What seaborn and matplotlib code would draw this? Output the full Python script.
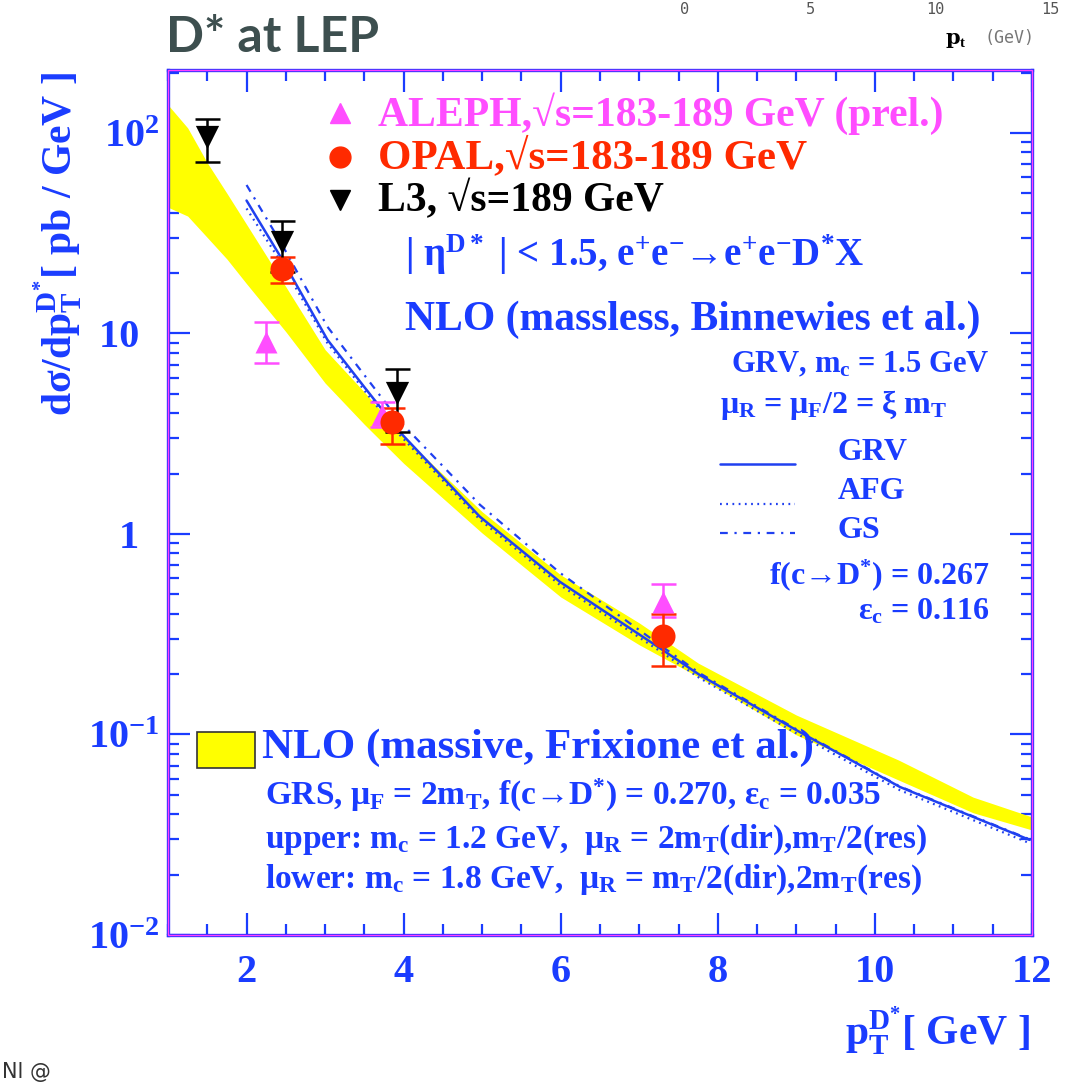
import numpy as np
import pandas as pd
import matplotlib
matplotlib.use("Agg")
import matplotlib.pyplot as plt
import seaborn as sns
from matplotlib.ticker import FixedLocator, FixedFormatter, MultipleLocator, LogLocator, NullFormatter
from matplotlib.patches import Rectangle

# ---------------- data ----------------
band_x = [1.0, 1.25, 1.5, 1.75, 2.0, 2.5, 3.0, 3.5, 4.0, 5.0, 6.0, 7.0, 7.75, 9.0, 10.3, 11.25, 12.0]
band_hi = [138, 106, 71, 50, 35, 17.1, 8.3, 5.1, 3.05, 1.29, 0.625, 0.36, 0.227, 0.125, 0.0746, 0.0487, 0.0388]
band_lo = [42.6, 38.5, 30.1, 23.5, 17.7, 10.2, 5.66, 3.52, 2.25, 1.01, 0.485, 0.28, 0.194, 0.0995, 0.0593, 0.0407, 0.0334]

nlo_x = [2.0, 2.45, 3.03, 3.5, 3.95, 4.97, 5.99, 7.26, 7.77, 9.04, 10.32, 11.97]
grv = [46, 23.5, 9.3, 5.4, 3.23, 1.22, 0.577, 0.27, 0.198, 0.103, 0.0547, 0.0298]
afg = [42, 22.3, 8.95, 5.2, 3.12, 1.18, 0.557, 0.261, 0.191, 0.0993, 0.0527, 0.0287]
gs = [55, 27.8, 10.8, 6.2, 3.65, 1.40, 0.64, 0.28, 0.202, 0.104, 0.0550, 0.0300]

aleph_x = [2.25, 3.73, 7.30]
aleph_y = [9.1, 3.93, 0.458]
aleph_lo = [7.1, 3.42, 0.385]
aleph_hi = [11.4, 4.55, 0.56]

opal_x = [2.45, 3.85, 7.30]
opal_y = [21.0, 3.62, 0.31]
opal_lo = [17.9, 2.81, 0.22]
opal_hi = [24.1, 4.25, 0.40]

l3_x = [1.50, 2.45, 3.91]
l3_y = [95, 28.6, 5.05]
l3_lo = [72, 20.3, 3.23]
l3_hi = [117, 36.4, 6.65]

x_ticks = [2, 4, 6, 8, 10, 12]
y_ticks = [0.01, 0.1, 1, 10, 100]
y_ticklabels = [r'10$^{-2}$', r'10$^{-1}$', '1\u2002', '10\u2002', r'10$^{2}$']

# ---------------- style ----------------
sns.set_style("ticks")
plt.rcParams['font.family'] = ['Liberation Serif', 'DejaVu Serif']
plt.rcParams['font.weight'] = 'bold'
plt.rcParams['axes.labelweight'] = 'bold'
plt.rcParams['mathtext.fontset'] = 'custom'
plt.rcParams['mathtext.rm'] = 'Liberation Serif:bold'
plt.rcParams['mathtext.it'] = 'Liberation Serif:bold'
plt.rcParams['mathtext.bf'] = 'Liberation Serif:bold'
plt.rcParams['mathtext.default'] = 'rm'

BLUE = '#1a3cff'
LINEBLUE = '#2040f0'
MAGENTA = '#ff4dff'
RED = '#ff2a00'

fig = plt.figure(figsize=(10.66, 10.86), dpi=100)
ax = fig.add_axes([168/1066, 1-935/1086, 864/1066, 865/1086])
ax.set_yscale('log')
ax.set_xlim(1, 12)
ax.set_ylim(0.01, 206)

# band
ax.fill_between(band_x, band_lo, band_hi, color='#ffff00', linewidth=0, zorder=1)

# NLO curves
df = pd.DataFrame({'x': nlo_x, 'GRV': grv, 'AFG': afg, 'GS': gs})
sns.lineplot(data=df, x='x', y='GRV', ax=ax, color=LINEBLUE, lw=1.8, zorder=3)
sns.lineplot(data=df, x='x', y='AFG', ax=ax, color=LINEBLUE, lw=1.6, linestyle=(0, (0.8, 2.0)), zorder=3)
sns.lineplot(data=df, x='x', y='GS', ax=ax, color=LINEBLUE, lw=1.6, linestyle=(0, (3.5, 3.0, 1.0, 3.0)), zorder=3)

# data points
def draw_points(xs, ys, lo, hi, color, marker, size):
    ys = np.array(ys); lo = np.array(lo); hi = np.array(hi)
    ax.errorbar(xs, ys, yerr=[ys - lo, hi - ys], fmt='none', ecolor=color,
                elinewidth=1.8, capsize=9, capthick=1.8, zorder=4)
    sns.scatterplot(x=xs, y=ys, ax=ax, color=color, marker=marker, s=size,
                    edgecolor=color, linewidth=0, zorder=5)

draw_points(aleph_x, aleph_y, aleph_lo, aleph_hi, MAGENTA, '^', 250)
draw_points(opal_x, opal_y, opal_lo, opal_hi, RED, 'o', 300)
draw_points(l3_x, l3_y, l3_lo, l3_hi, 'black', 'v', 280)

# ticks
ax.xaxis.set_major_locator(FixedLocator(x_ticks))
ax.xaxis.set_minor_locator(MultipleLocator(0.5))
ax.yaxis.set_major_locator(FixedLocator(y_ticks))
ax.yaxis.set_major_formatter(FixedFormatter(y_ticklabels))
ax.yaxis.set_minor_locator(LogLocator(base=10, subs=np.arange(2, 10)))
ax.yaxis.set_minor_formatter(NullFormatter())
ax.tick_params(which='both', direction='in', top=True, right=True, color=BLUE, width=1.6)
ax.tick_params(which='major', length=16)
ax.tick_params(which='minor', length=8)
ax.tick_params(axis='x', which='major', labelsize=29, labelcolor=BLUE, pad=14)
ax.tick_params(axis='y', which='major', labelsize=29, labelcolor=BLUE, pad=6)
for lab in ax.get_xticklabels() + ax.get_yticklabels():
    lab.set_fontweight('bold')

for s in ax.spines.values():
    s.set_color('#2a30ff')
    s.set_linewidth(2.4)
ax.add_patch(Rectangle((0, 0), 1, 1, transform=ax.transAxes, fill=False,
                       edgecolor='#ff40ff', lw=1.0, zorder=10, clip_on=False))

ax.set_xlabel(r'p$_{T}^{D^{*}}$[ GeV ]', loc='right', fontsize=30, color=BLUE, fontweight='bold')
ax.xaxis.set_label_coords((1030-168)/864, (935-1005)/865)
ax.set_ylabel(r'dσ/dp$_{T}^{D^{*}}$[ pb / GeV ]', loc='top', fontsize=30, color=BLUE, fontweight='bold')
ax.yaxis.set_label_coords((84-168)/864, (935-72)/865)

# legend-like annotations (axes fraction)
T = ax.transAxes
def fy(py):
    return (935 - py) / 865

ax.plot([0.199], [fy(113)], marker='^', ms=14, color=MAGENTA, transform=T, clip_on=False, ls='none')
ax.plot([0.199], [fy(157)], marker='o', ms=15, color=RED, transform=T, clip_on=False, ls='none')
ax.plot([0.199], [fy(200)], marker='v', ms=14, color='black', transform=T, clip_on=False, ls='none')
ax.text(0.243, fy(114), 'ALEPH,√s=183-189 GeV (prel.)', transform=T, color=MAGENTA, fontsize=30, va='center')
ax.text(0.243, fy(157), 'OPAL,√s=183-189 GeV', transform=T, color=RED, fontsize=31, va='center')
ax.text(0.243, fy(200), 'L3, √s=189 GeV', transform=T, color='black', fontsize=30, va='center')
ax.text(0.274, fy(255), r'| η$^{D*}$ | < 1.5, e$^{+}$e$^{-}$→e$^{+}$e$^{-}$D$^{*}$X', transform=T, color=BLUE, fontsize=28, va='center')
ax.text(0.274, fy(320), 'NLO (massless, Binnewies et al.)', transform=T, color=BLUE, fontsize=30, va='center')
ax.text(0.951, fy(365), r'GRV, m$_{c}$ = 1.5 GeV', transform=T, color=BLUE, fontsize=22, va='center', ha='right')
ax.text(0.639, fy(405), r'μ$_{R}$ = μ$_{F}$/2 = ξ m$_{T}$', transform=T, color=BLUE, fontsize=23, va='center')
ax.plot([0.639, 0.726], [fy(464), fy(464)], transform=T, color=LINEBLUE, lw=1.8)
ax.plot([0.639, 0.726], [fy(504), fy(504)], transform=T, color=LINEBLUE, lw=1.6, linestyle=(0, (0.8, 2.0)))
ax.plot([0.639, 0.726], [fy(533), fy(533)], transform=T, color=LINEBLUE, lw=1.6, linestyle=(0, (3.5, 3.0, 1.0, 3.0)))
ax.text(0.775, fy(453), 'GRV', transform=T, color=BLUE, fontsize=23, va='center')
ax.text(0.775, fy(492), 'AFG', transform=T, color=BLUE, fontsize=23, va='center')
ax.text(0.775, fy(531), 'GS', transform=T, color=BLUE, fontsize=23, va='center')
ax.text(0.951, fy(575), r'f(c→D$^{*}$) = 0.267', transform=T, color=BLUE, fontsize=23, va='center', ha='right')
ax.text(0.951, fy(612), r'ε$_{c}$ = 0.116', transform=T, color=BLUE, fontsize=23, va='center', ha='right')

ax.add_patch(Rectangle((0.0336, fy(768)), 0.0671, fy(732) - fy(768), transform=T, facecolor='#ffff00',
                       edgecolor='#333333', lw=1.2, zorder=6))
ax.text(0.109, fy(748), 'NLO (massive, Frixione et al.)', transform=T, color=BLUE, fontsize=31, va='center')
ax.text(0.112, fy(795), r'GRS, μ$_{F}$ = 2m$_{T}$, f(c→D$^{*}$) = 0.270, ε$_{c}$ = 0.035', transform=T, color=BLUE, fontsize=24, va='center')
ax.text(0.112, fy(840), r'upper: m$_{c}$ = 1.2 GeV,  μ$_{R}$ = 2m$_{T}$(dir),m$_{T}$/2(res)', transform=T, color=BLUE, fontsize=24, va='center')
ax.text(0.112, fy(880), r'lower: m$_{c}$ = 1.8 GeV,  μ$_{R}$ = m$_{T}$/2(dir),2m$_{T}$(res)', transform=T, color=BLUE, fontsize=24, va='center')

# title and stray fragments
fig.text(166/1066, 1-52/1086, 'D* at LEP', family=['Lato', 'DejaVu Sans'], fontweight='bold',
         fontsize=36, color='#3d4f4f', va='baseline', ha='left')
for lbl, px in [('0', 685), ('5', 810), ('10', 935), ('15', 1050)]:
    fig.text(px/1066, 1-9/1086, lbl, family=['DejaVu Sans Mono'], fontweight='normal',
             fontsize=11, color='#555555', ha='center', va='center')
fig.text(945/1066, 1-40/1086, r'p$_{t}$', family=['DejaVu Serif'], fontsize=15, color='black', va='center')
fig.text(985/1066, 1-38/1086, '(GeV)', family=['DejaVu Sans Mono'], fontweight='normal', fontsize=12,
         color='#777777', va='center')
fig.text(2/1066, 4/1086, 'Nl @', family=['DejaVu Sans'], fontweight='normal', fontsize=15,
         color='#333333', va='bottom')

fig.savefig('out.png', dpi=100)
